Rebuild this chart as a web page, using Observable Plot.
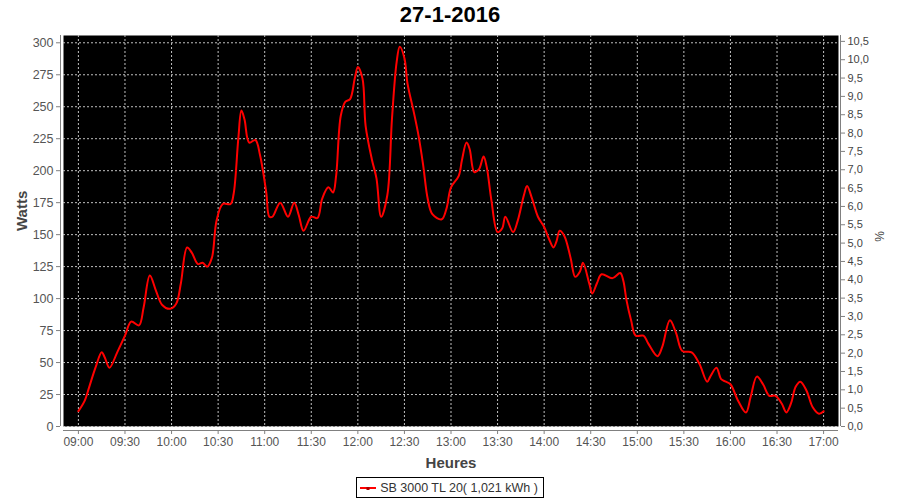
<!DOCTYPE html>
<html><head><meta charset="utf-8">
<script src="https://cdn.jsdelivr.net/npm/d3@7"></script>
<script src="https://cdn.jsdelivr.net/npm/@observablehq/plot@0.6"></script>
<style>
body{margin:0;background:#fff;font-family:"Liberation Sans",Arial,sans-serif;}
#wrap{width:900px;height:500px;position:relative;overflow:hidden;}
#title{height:33px;line-height:29px;text-align:center;font-weight:bold;font-size:22px;color:#000;}
#chart{height:440px;}
#legend{display:flex;justify-content:center;margin-top:4px;}
#legend .box{border:1px solid #000;height:19px;display:flex;align-items:center;padding:0 5px 0 2px;font-size:12.5px;color:#333;}
#legend svg{margin-right:3px;}
</style></head><body>
<div id="wrap"><div id="title"></div><div id="chart"></div><div id="legend"></div></div>
<script>
const title = "27-1-2016";
const seriesName = "SB 3000 TL 20( 1,021 kWh )";
const yLabel = "Watts";
const xLabel = "Heures";
const y2Label = "%";

const times = ["09:00","09:04","09:07","09:11","09:15","09:17","09:20","09:25","09:30","09:34","09:39","09:42","09:46","09:50","09:54","09:59",
"10:03","10:06","10:10","10:13","10:17","10:20","10:23","10:26","10:29","10:33","10:38","10:40","10:43","10:45","10:47","10:50","10:54","10:57",
"11:01","11:03","11:05","11:10","11:15","11:19","11:22","11:25","11:30","11:34","11:37","11:41","11:44","11:46","11:49","11:52","11:55","11:58",
"12:00","12:03","12:05","12:09","12:12","12:15","12:19","12:22","12:25","12:27","12:30","12:32","12:36","12:39","12:42","12:45","12:48","12:54","12:57",
"13:00","13:05","13:07","13:10","13:12","13:15","13:18","13:21","13:23","13:26","13:30","13:33","13:35","13:40","13:43","13:47","13:49","13:52","13:56",
"14:00","14:03","14:06","14:08","14:10","14:13","14:17","14:20","14:23","14:25","14:29","14:31","14:34","14:37","14:44","14:49","14:51","14:53","14:56","14:59",
"15:04","15:07","15:13","15:16","15:21","15:25","15:29","15:35","15:40","15:45","15:47","15:51","15:54","15:57",
"16:00","16:05","16:10","16:13","16:17","16:21","16:25","16:29","16:33","16:36","16:39","16:42","16:45","16:49","16:53","16:57","17:00"];
const watts = [12,20,31,46,58,54,46,58,71,82,79,93,118,106,95,92,
96,112,140,136,127,128,125,132,161,174,174,182,225,247,240,222,224,212,
183,164,164,175,164,175,165,153,164,163,178,187,183,196,243,254,256,272,
281,272,235,209,194,164,181,241,285,297,288,268,246,228,205,178,166,162,170,
187,196,208,222,217,199,201,211,203,177,152,155,164,152,161,181,188,179,164,
156,147,140,145,153,149,132,117,121,128,112,104,112,119,116,120,114,99,83,71,
71,65,55,62,83,73,59,58,49,35,39,46,37,35,
33,20,11,23,39,33,24,24,18,11,18,31,35,28,15,10,12];

const xTicks = ["09:00","09:30","10:00","10:30","11:00","11:30","12:00","12:30","13:00","13:30","14:00","14:30","15:00","15:30","16:00","16:30","17:00"];
const yTicks = [0,25,50,75,100,125,150,175,200,225,250,275,300];
const pctTicks = [0,0.5,1,1.5,2,2.5,3,3.5,4,4.5,5,5.5,6,6.5,7,7.5,8,8.5,9,9.5,10,10.5];
const yMax = 305.7;     // top of left axis
const pctMax = 10.66;   // top of right axis

const toDate = s => new Date(Date.UTC(2016, 0, 27, +s.slice(0, 2), +s.slice(3, 5)));
const data = times.map((t, i) => ({t: toDate(t), w: watts[i]}));
const t0 = data[0].t, t1 = data[data.length - 1].t;
const pad = (t1 - t0) * 0.02;
const xDomain = [new Date(+t0 - pad), new Date(+t1 + pad)];
const ratio = yMax / pctMax;

document.getElementById("title").textContent = title;

const gridStyle = {stroke: "#c0c0c0", strokeOpacity: 1, strokeWidth: 1, strokeDasharray: "2,2"};
const axisGray = "#808080";

const chart = Plot.plot({
  width: 900,
  height: 440,
  marginTop: 2,
  marginBottom: 47,
  marginLeft: 63,
  marginRight: 62,
  style: {fontFamily: "Liberation Sans, Arial, sans-serif", fontSize: "12px", background: "white", color: "#555"},
  x: {type: "utc", domain: xDomain},
  y: {domain: [0, yMax]},
  marks: [
    Plot.frame({fill: "black", stroke: "none"}),
    Plot.gridX(xTicks.map(toDate), gridStyle),
    Plot.gridY(yTicks, gridStyle),
    Plot.line(data, {x: "t", y: "w", stroke: "#ff0000", strokeWidth: 2, curve: "catmull-rom"}),
    Plot.ruleY([0], {dy: 4, stroke: axisGray}),
    Plot.ruleX([xDomain[0]], {dx: -3, stroke: axisGray}),
    Plot.ruleX([xDomain[1]], {dx: 2, stroke: axisGray}),
    Plot.axisX(xTicks.map(toDate), {anchor: "bottom", dy: 4, tickSize: 4, tickPadding: 3, stroke: axisGray, fill: "#555", fontSize: 12, tickFormat: d3.utcFormat("%H:%M"), label: null}),
    Plot.axisY(yTicks, {anchor: "left", dx: -3, tickSize: 4, tickPadding: 3, stroke: axisGray, fill: "#555", fontSize: 12.5, tickFormat: d => String(d), label: null}),
    Plot.axisY(pctTicks.map(p => p * ratio), {anchor: "right", dx: 2, tickSize: 4, tickPadding: 3, stroke: axisGray, fill: "#444", fontSize: 11, tickFormat: d => (d / ratio).toFixed(1).replace(".", ","), label: null}),
    Plot.text([yLabel], {frameAnchor: "left", dx: -41, rotate: -90, fontWeight: "bold", fontSize: 15, fill: "#444"}),
    Plot.text([xLabel], {frameAnchor: "bottom", dy: 41, fontWeight: "bold", fontSize: 15, fill: "#444"}),
    Plot.text([y2Label], {frameAnchor: "right", dx: 42, rotate: -90, fontSize: 12, fill: "#444"})
  ]
});
document.getElementById("chart").appendChild(chart);

const legend = document.getElementById("legend");
legend.innerHTML = `<div class="box"><svg width="18" height="10"><line x1="1" y1="5" x2="17" y2="5" stroke="#ff0000" stroke-width="2"/><rect x="7.5" y="4" width="3" height="3" fill="#aa0000"/></svg><span></span></div>`;
legend.querySelector("span").textContent = seriesName;
</script>
</body></html>
